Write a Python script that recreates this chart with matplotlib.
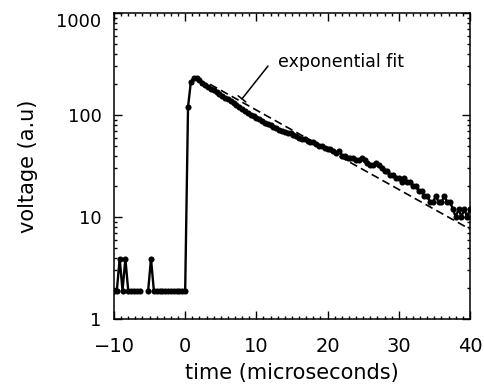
import matplotlib
matplotlib.use("Agg")
import matplotlib.pyplot as plt
from matplotlib.ticker import FixedLocator, FixedFormatter, NullFormatter, MultipleLocator, LogLocator
import numpy as np

# pre-trigger samples, t = -10 .. -0.4 us (0.4 us step); 0 = no signal (masked on log axis)
pre_volt = [1.9, 1.9, 3.9, 1.9, 3.9, 1.9, 1.9, 1.9, 1.9, 1.9,
            0, 0, 1.9, 3.9, 1.9, 1.9, 1.9, 1.9, 1.9, 1.9,
            1.9, 1.9, 1.9, 1.9, 1.9]
# pulse samples, t = 0 .. 40 us (0.4 us step)
pulse_volt = [1.9, 120, 212, 232, 228, 218, 207, 198, 189, 181,
              175, 168, 161, 155, 148, 142, 136, 130, 125, 120,
              115, 110, 105, 101, 98, 94, 91, 88, 84, 81,
              79, 76, 74, 72, 70, 68, 66, 66, 63, 62,
              60, 58, 58, 56, 54, 54, 52, 50, 50, 48,
              46, 46, 44, 42, 44, 40, 40, 38, 38, 38,
              36, 36, 38, 36, 34, 32, 32, 34, 32, 30,
              28, 28, 26, 26, 24, 24, 22, 24, 22, 22,
              20, 20, 18, 18, 16, 16, 14, 14, 16, 14,
              14, 16, 14, 14, 12, 10, 12, 10, 12, 10,
              12]
t_start, t_step = -10.0, 0.4

# exponential fit (straight line on the log axis)
fit_time = [3.5, 40.0]
fit_volt = [200.0, 7.6]

x_ticks = [-10, 0, 10, 20, 30, 40]
x_labels = ["\u221210", "0", "10", "20", "30", "40"]
y_ticks = [1, 10, 100, 1000]
y_labels = ["1", "10", "100", "1000"]

volt = np.array(pre_volt + pulse_volt, float)
time_us = t_start + t_step * np.arange(len(volt))

fig = plt.figure(figsize=(4.84, 3.87), dpi=100)
ax = fig.add_axes([0.2355, 0.1757, 0.7355, 0.7907])

ax.set_yscale("log", nonpositive="mask")
ax.plot(time_us, volt, color="black", lw=1.7, marker="o", ms=4.4, mew=0)
ax.plot(fit_time, fit_volt, color="black", lw=1.2, ls=(0, (4.8, 2.6)))

ax.set_xlim(-10, 40)
ax.set_ylim(1, 1000)

ax.xaxis.set_major_locator(FixedLocator(x_ticks))
ax.xaxis.set_major_formatter(FixedFormatter(x_labels))
ax.xaxis.set_minor_locator(MultipleLocator(1))
ax.yaxis.set_major_locator(FixedLocator(y_ticks))
ax.yaxis.set_major_formatter(FixedFormatter(y_labels))
ax.yaxis.set_minor_locator(LogLocator(base=10, subs=np.arange(2, 10)))
ax.yaxis.set_minor_formatter(NullFormatter())

ax.tick_params(which="both", direction="in", top=True, right=True, width=1.0, color="black")
ax.tick_params(which="major", length=5.5)
ax.tick_params(which="minor", length=2.5)
ax.tick_params(axis="x", which="major", labelsize=14, pad=13)
ax.tick_params(axis="y", which="major", labelsize=13, pad=9)
for s in ax.spines.values():
    s.set_linewidth(1.1)

# top label sits just below the frame edge
ax.yaxis.get_major_ticks()[-1].label1.set_verticalalignment("top")

ax.set_xlabel("time (microseconds)", fontsize=15, labelpad=5)
ax.set_ylabel("voltage (a.u)", fontsize=15, labelpad=13)

ax.text(13.0, 298, "exponential fit", fontsize=12.5, ha="left", va="baseline")
ax.annotate("", xy=(7.98, 144), xytext=(11.63, 302),
            arrowprops=dict(arrowstyle="-[, widthB=0.35, lengthB=0", color="black",
                            lw=1.1, shrinkA=0, shrinkB=0))

fig.savefig("out.png", dpi=100)
